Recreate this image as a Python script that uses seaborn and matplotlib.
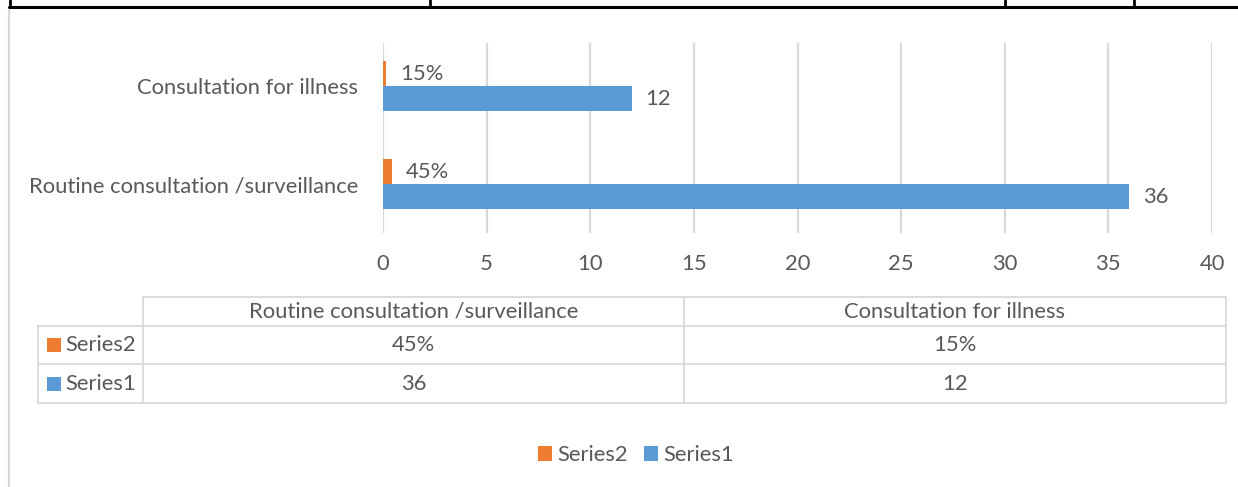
import matplotlib
matplotlib.use("Agg")
import matplotlib.pyplot as plt
from matplotlib.lines import Line2D
from matplotlib.patches import Patch, Rectangle
import pandas as pd
import seaborn as sns

# ---- data ----
categories = ["Routine consultation /surveillance", "Consultation for illness"]
series_names = ["Series2", "Series1"]
series1_values = [36, 12]
series2_values = [0.45, 0.15]
x_ticks = [0, 5, 10, 15, 20, 25, 30, 35, 40]

colors = {"Series2": "#ED7D31", "Series1": "#5B9BD5"}
text_color = "#595959"
grid_color = "#D9D9D9"

df = pd.DataFrame({
    "category": categories * 2,
    "series": ["Series1"] * len(categories) + ["Series2"] * len(categories),
    "value": series1_values + series2_values,
})

sns.set_theme(style="white")
plt.rcParams["font.family"] = ["Lato", "DejaVu Sans"]
FS = 15.8

W, H = 1238, 487
fig = plt.figure(figsize=(W / 100, H / 100), dpi=100)


def fx(px):
    return px / W


def fy(py):
    return 1 - py / H


ax = fig.add_axes([fx(383), fy(233), fx(1212) - fx(383), fy(43) - fy(233)])

# categories listed top to bottom: illness first
order = categories[::-1]
sns.barplot(data=df, y="category", x="value", hue="series", order=order,
            hue_order=series_names, palette=colors, orient="h",
            width=0.51, gap=0, ax=ax, legend=False, saturation=1,
            edgecolor="none")

ax.set_ylim(1.5, -0.44)
ax.set_xlim(x_ticks[0], x_ticks[-1])
ax.set_xticks(x_ticks)
ax.set_xticklabels([str(t) for t in x_ticks])
ax.grid(axis="x", color=grid_color, linewidth=1.6)
ax.set_axisbelow(True)
for s in ax.spines.values():
    s.set_visible(False)
ax.set_xlabel("")
ax.set_ylabel("")
ax.tick_params(axis="x", length=0, pad=15, labelsize=FS, labelcolor=text_color)
ax.tick_params(axis="y", length=0, pad=18, labelsize=FS, labelcolor=text_color)

# value labels at the end of each bar
for cont, name in zip(ax.containers, series_names):
    if name == "Series2":
        labels = [f"{v.get_width() * 100:.0f}%" for v in cont]
    else:
        labels = [f"{v.get_width():.0f}" for v in cont]
    ax.bar_label(cont, labels=labels, padding=10, fontsize=FS, color=text_color)

# ---- data table under the chart ----
tbl_lw = 1.3
col_x = [38, 143, 684, 1226]
row_y = [297, 326, 364, 403]


def hline(x0, x1, y, color=grid_color, lw=tbl_lw):
    fig.add_artist(Line2D([fx(x0), fx(x1)], [fy(y), fy(y)], color=color, lw=lw))


def vline(x, y0, y1, color=grid_color, lw=tbl_lw):
    fig.add_artist(Line2D([fx(x), fx(x)], [fy(y0), fy(y1)], color=color, lw=lw))


hline(col_x[1], col_x[3], row_y[0])
for y in row_y[1:]:
    hline(col_x[0], col_x[3], y)
vline(col_x[0], row_y[1], row_y[3])
for x in col_x[1:]:
    vline(x, row_y[0], row_y[3])

for i, cat in enumerate(categories):
    cx = (col_x[i + 1] + col_x[i + 2]) / 2
    fig.text(fx(cx), fy((row_y[0] + row_y[1]) / 2), cat, ha="center", va="center",
             fontsize=FS, color=text_color)

table_rows = [
    ("Series2", [f"{v * 100:.0f}%" for v in series2_values]),
    ("Series1", [f"{v:.0f}" for v in series1_values]),
]
for r, (name, vals) in enumerate(table_rows):
    yc = (row_y[r + 1] + row_y[r + 2]) / 2
    fig.add_artist(Rectangle((fx(47), fy(yc + 7)), fx(14), fy(0) - fy(14),
                             facecolor=colors[name], edgecolor="none"))
    fig.text(fx(65), fy(yc), name, ha="left", va="center", fontsize=FS, color=text_color)
    for i, v in enumerate(vals):
        cx = (col_x[i + 1] + col_x[i + 2]) / 2
        fig.text(fx(cx), fy(yc), v, ha="center", va="center", fontsize=FS, color=text_color)

# ---- legend ----
handles = [Patch(facecolor=colors[n], edgecolor="none", label=n) for n in series_names]
fig.legend(handles=handles, loc="center", bbox_to_anchor=(fx(636), fy(455)), ncol=2,
           frameon=False, fontsize=FS, labelcolor=text_color, handlelength=0.65,
           handleheight=0.65, handletextpad=0.25, columnspacing=0.7,
           borderaxespad=0, borderpad=0)

# ---- frame lines ----
fig.add_artist(Line2D([fx(9), fx(9)], [fy(10), fy(487)], color=grid_color, lw=1.6))
hline(9, W, 7, color="black", lw=2.2)
for x in [10, 430, 1005, 1134]:
    vline(x, 0, 7, color="black", lw=2.0)

fig.savefig("out.png", dpi=100, facecolor="white")
